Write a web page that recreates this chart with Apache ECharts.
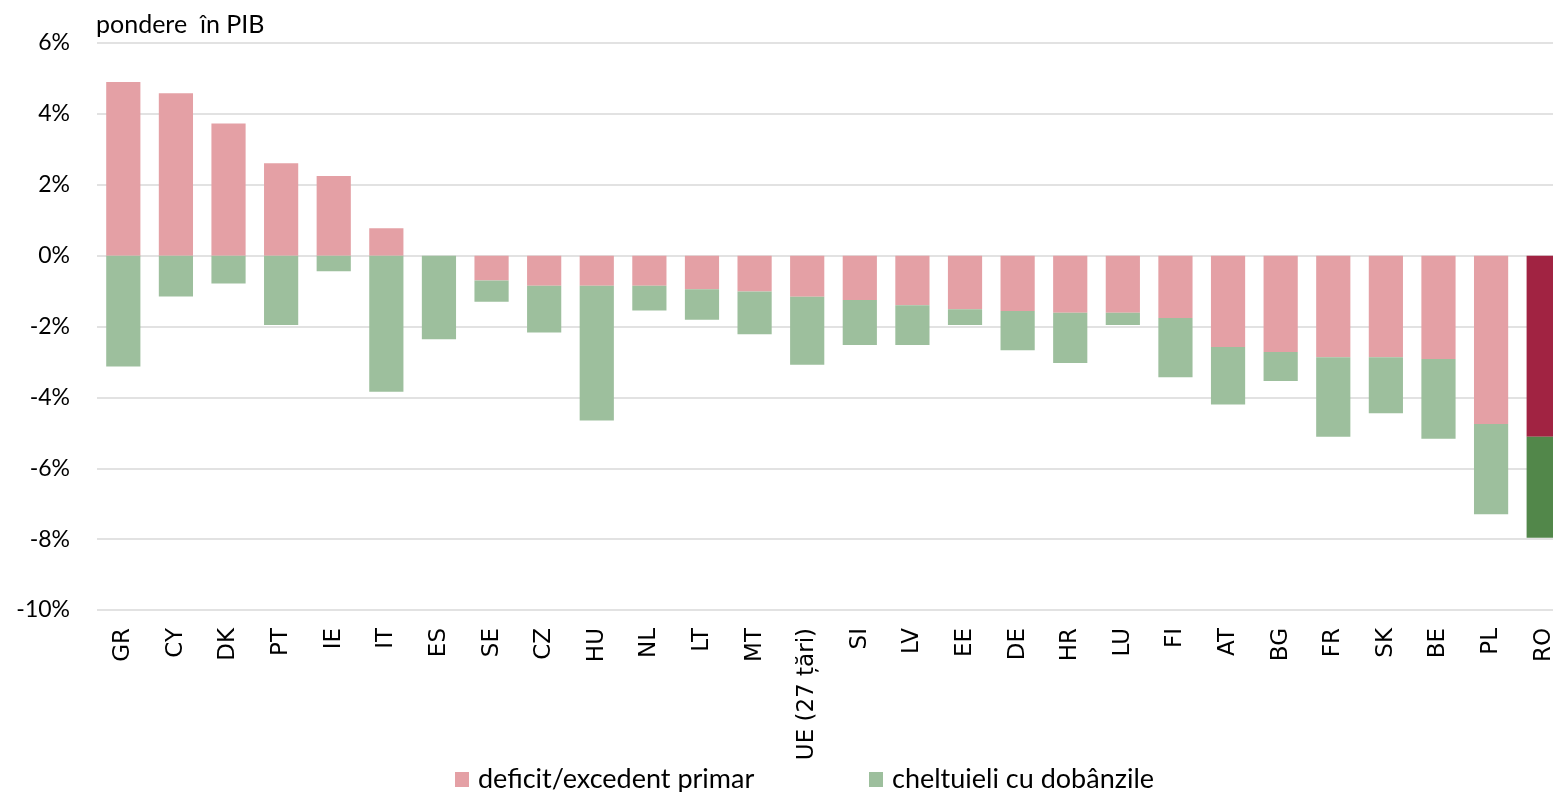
<!DOCTYPE html>
<html>
<head>
<meta charset="utf-8">
<script src="https://cdn.jsdelivr.net/npm/echarts@6/dist/echarts.min.js"></script>
<style>
html,body{margin:0;padding:0;overflow:hidden;background:#fff;}
#c{width:1570px;height:792px;}
</style>
</head>
<body>
<div id="c"></div>
<script>
const categories = ['GR','CY','DK','PT','IE','IT','ES','SE','CZ','HU','NL','LT','MT','UE (27 țări)','SI','LV','EE','DE','HR','LU','FI','AT','BG','FR','SK','BE','PL','RO'];
const primaryBalance = [4.90, 4.58, 3.73, 2.61, 2.25, 0.77, 0.00, -0.70, -0.85, -0.85, -0.85, -0.95, -1.01, -1.16, -1.25, -1.40, -1.51, -1.56, -1.61, -1.61, -1.76, -2.58, -2.72, -2.87, -2.87, -2.92, -4.75, -5.11];
const interestSpending = [-3.13, -1.15, -0.79, -1.96, -0.44, -3.84, -2.36, -0.60, -1.32, -3.80, -0.70, -0.86, -1.21, -1.92, -1.27, -1.12, -0.45, -1.11, -1.42, -0.35, -1.67, -1.62, -0.82, -2.24, -1.58, -2.25, -2.55, -2.85];
const yTicks = { min: -10, max: 6, interval: 2 };
const seriesNames = ['deficit/excedent primar', 'cheltuieli cu dobânzile'];
const highlightCategory = 'RO';

const PINK = '#E4A0A5', GREEN = '#9DBF9D', DARK_RED = '#A12342', DARK_GREEN = '#52874A';

function mk(values, hi) {
  return values.map((v, i) => categories[i] === highlightCategory ? { value: v, itemStyle: { color: hi } } : v);
}

const legendText = { fontFamily: 'Lato', fontSize: 27, color: '#000', padding: [0, 0, 0, 4] };

const chart = echarts.init(document.getElementById('c'), null, { renderer: 'canvas' });
chart.setOption({
  animation: false,
  backgroundColor: '#fff',
  title: {
    text: 'pondere  în PIB', left: 96, top: 12, padding: 0,
    textStyle: { fontFamily: 'Lato', fontSize: 25, fontWeight: 'normal', color: '#000' }
  },
  legend: [
    { data: [seriesNames[0]], left: 455, top: 766, padding: 0, itemWidth: 14, itemHeight: 15, icon: 'rect',
      textStyle: legendText },
    { data: [seriesNames[1]], left: 869, top: 766, padding: 0, itemWidth: 14, itemHeight: 15, icon: 'rect',
      textStyle: legendText }
  ],
  grid: { left: 97, right: 0, top: 43, bottom: 182, containLabel: false },
  xAxis: {
    type: 'category', data: categories,
    axisLine: { show: false, onZero: false }, axisTick: { show: false },
    axisLabel: { rotate: 90, margin: 18, interval: 0, fontFamily: 'DejaVu Sans', fontSize: 23, color: '#000' }
  },
  yAxis: {
    type: 'value', min: yTicks.min, max: yTicks.max, interval: yTicks.interval,
    axisLine: { show: false }, axisTick: { show: false },
    axisLabel: { formatter: '{value}%', margin: 27, fontFamily: 'Lato', fontSize: 23, color: '#000' },
    splitLine: { lineStyle: { color: '#D9D9D9', width: 1.5 } }
  },
  series: [
    { name: seriesNames[0], type: 'bar', stack: 'a', barWidth: '65%',
      itemStyle: { color: PINK }, data: mk(primaryBalance, DARK_RED) },
    { name: seriesNames[1], type: 'bar', stack: 'a', barWidth: '65%',
      itemStyle: { color: GREEN }, data: mk(interestSpending, DARK_GREEN) }
  ]
});
</script>
</body>
</html>
